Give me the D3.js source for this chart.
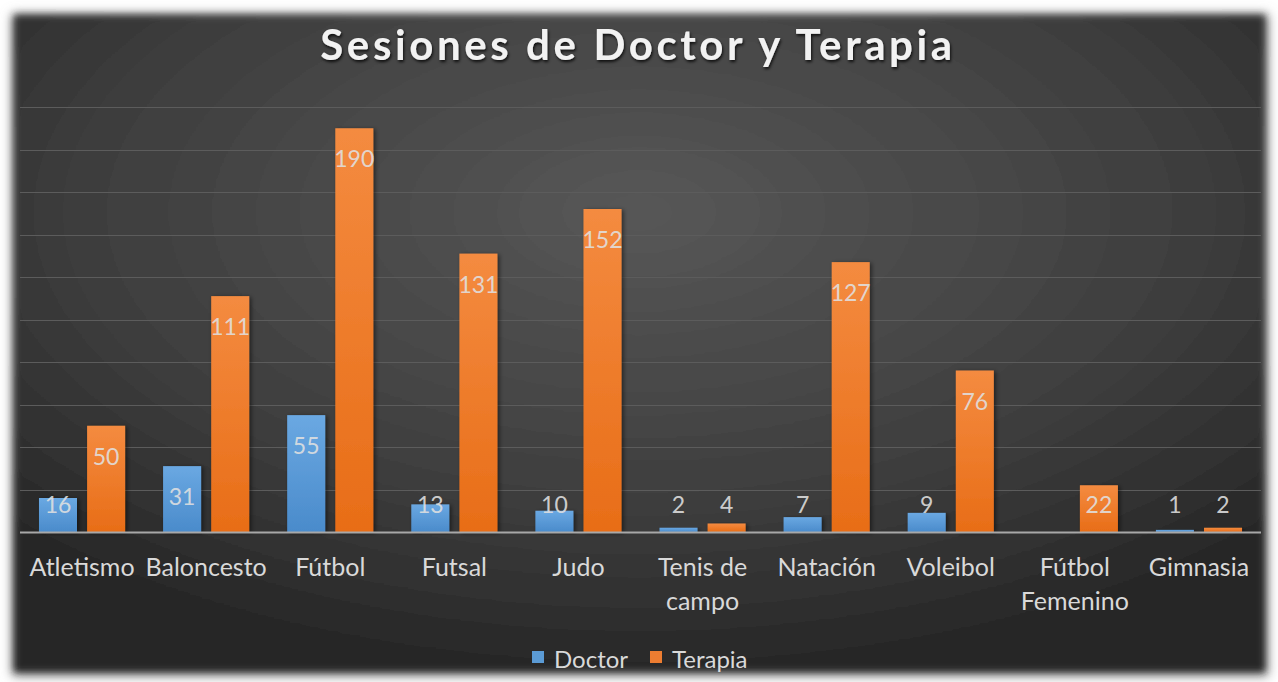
<!DOCTYPE html>
<html>
<head>
<meta charset="utf-8">
<script src="https://cdn.jsdelivr.net/npm/d3@7"></script>
<style>
  html, body { margin: 0; padding: 0; background: #fff; }
  svg { display: block; }
  text { font-family: Lato, "Open Sans", sans-serif; }
</style>
</head>
<body>
<div id="chart"></div>
<script>
var categories = ["Atletismo", "Baloncesto", "Fútbol", "Futsal", "Judo", "Tenis de campo", "Natación", "Voleibol", "Fútbol Femenino", "Gimnasia"];
var doctor  = [16, 31, 55, 13, 10, 2, 7, 9, null, 1];
var terapia = [50, 111, 190, 131, 152, 4, 127, 76, 22, 2];
var seriesNames = ["Doctor", "Terapia"];
var yTicks = [0, 20, 40, 60, 80, 100, 120, 140, 160, 180, 200];

var width = 1278, height = 682;

var svg = d3.select("#chart").append("svg")
    .attr("width", width)
    .attr("height", height);

var defs = svg.append("defs");

var bg = defs.append("radialGradient")
    .attr("id", "bg")
    .attr("cx", "50%").attr("cy", "30%").attr("r", "70%");
bg.append("stop").attr("offset", "0%").attr("stop-color", "#575757");
bg.append("stop").attr("offset", "60%").attr("stop-color", "#3f3f3f");
bg.append("stop").attr("offset", "100%").attr("stop-color", "#272727");

// soft edge of the frame + outer halo
var edge = defs.append("filter").attr("id", "edge")
    .attr("x", "-5%").attr("y", "-5%").attr("width", "110%").attr("height", "110%");
edge.append("feGaussianBlur").attr("stdDeviation", 3.5);

var halo = defs.append("filter").attr("id", "halo")
    .attr("x", "-5%").attr("y", "-5%").attr("width", "110%").attr("height", "110%");
halo.append("feGaussianBlur").attr("stdDeviation", 6);

var shadow = defs.append("filter").attr("id", "barShadow")
    .attr("x", "-30%").attr("y", "-10%").attr("width", "160%").attr("height", "120%");
shadow.append("feDropShadow")
    .attr("dx", 2).attr("dy", 1).attr("stdDeviation", 2)
    .attr("flood-color", "#000").attr("flood-opacity", 0.5);

var titleShadow = defs.append("filter").attr("id", "titleShadow")
    .attr("x", "-10%").attr("y", "-30%").attr("width", "120%").attr("height", "160%");
titleShadow.append("feDropShadow")
    .attr("dx", 1).attr("dy", 2).attr("stdDeviation", 1.5)
    .attr("flood-color", "#000").attr("flood-opacity", 0.8);

function barGrad(id, top, bottom) {
  var g = defs.append("linearGradient").attr("id", id)
      .attr("x1", 0).attr("y1", 0).attr("x2", 0).attr("y2", 1);
  g.append("stop").attr("offset", "0%").attr("stop-color", top);
  g.append("stop").attr("offset", "100%").attr("stop-color", bottom);
}
barGrad("gDoctor", "#6aa8e2", "#4a8bcb");
barGrad("gTerapia", "#f48b40", "#e86d17");
var fills = ["url(#gDoctor)", "url(#gTerapia)"];
var legendColors = ["#5b9bd5", "#ed7d31"];

// frame
svg.append("rect")
    .attr("x", 12).attr("y", 14)
    .attr("width", 1256).attr("height", 662)
    .attr("fill", "#8a8a8a")
    .attr("filter", "url(#halo)");
svg.append("rect")
    .attr("x", 14).attr("y", 15)
    .attr("width", 1251).attr("height", 657)
    .attr("fill", "url(#bg)")
    .attr("filter", "url(#edge)");

var x0 = d3.scaleBand()
    .domain(categories)
    .range([20, 1261])
    .paddingInner(0.306)
    .paddingOuter(0.153);

var x1 = d3.scaleBand()
    .domain(seriesNames)
    .range([0, x0.bandwidth()])
    .paddingInner(0.21);

var y = d3.scaleLinear()
    .domain([0, 200])
    .range([532, 107]);

// gridlines
svg.append("g")
  .selectAll("line")
  .data(yTicks.slice(1))
  .enter().append("line")
    .attr("x1", 20).attr("x2", 1261)
    .attr("y1", function(d){ return Math.round(y(d)) + 0.5; })
    .attr("y2", function(d){ return Math.round(y(d)) + 0.5; })
    .attr("stroke", "#5c5c5c")
    .attr("stroke-width", 1);

var rows = categories.map(function(c, i){
  return [
    {cat: c, s: 0, v: doctor[i]},
    {cat: c, s: 1, v: terapia[i]}
  ];
});

var groups = svg.append("g")
  .selectAll("g")
  .data(rows)
  .enter().append("g")
    .attr("transform", function(d, i){ return "translate(" + x0(categories[i]) + ",0)"; });

groups.selectAll("rect")
  .data(function(d){ return d.filter(function(e){ return e.v != null; }); })
  .enter().append("rect")
    .attr("x", function(d){ return x1(seriesNames[d.s]); })
    .attr("y", function(d){ return y(d.v); })
    .attr("width", x1.bandwidth())
    .attr("height", function(d){ return y(0) - y(d.v); })
    .attr("fill", function(d){ return fills[d.s]; })
    .attr("filter", "url(#barShadow)");

// baseline
svg.append("line")
    .attr("x1", 20).attr("x2", 1261)
    .attr("y1", y(0) + 0.5).attr("y2", y(0) + 0.5)
    .attr("stroke", "#a8a8a8")
    .attr("stroke-width", 2);

// data labels
groups.selectAll("text")
  .data(function(d){ return d.filter(function(e){ return e.v != null; }); })
  .enter().append("text")
    .attr("x", function(d){ return x1(seriesNames[d.s]) + x1.bandwidth() / 2; })
    .attr("y", function(d){ return Math.min(y(d.v) + 39, y(0) - 19); })
    .attr("text-anchor", "middle")
    .attr("font-size", 23)
    .attr("fill", "#e0e0e0")
    .attr("fill-opacity", 0.9)
    .text(function(d){ return d.v; });

// category labels with word wrap
var catG = svg.append("g");
categories.forEach(function(c){
  var cx = x0(c) + x0.bandwidth() / 2;
  var t = catG.append("text")
      .attr("x", cx)
      .attr("y", 576)
      .attr("text-anchor", "middle")
      .attr("font-size", 25)
      .attr("fill", "#d9d9d9");
  var words = c.split(" "), line = [];
  var tspan = t.append("tspan").attr("x", cx).attr("dy", 0);
  words.forEach(function(w){
    line.push(w);
    tspan.text(line.join(" "));
    if (tspan.node().getComputedTextLength() > x0.step() && line.length > 1) {
      line.pop();
      tspan.text(line.join(" "));
      line = [w];
      tspan = t.append("tspan")
          .attr("x", cx)
          .attr("dy", 34)
          .text(w);
    }
  });
});

// title
svg.append("text")
    .attr("x", 638)
    .attr("y", 60)
    .attr("text-anchor", "middle")
    .attr("font-size", 42)
    .attr("font-weight", "bold")
    .attr("letter-spacing", 3.6)
    .attr("fill", "#f2f2f2")
    .attr("filter", "url(#titleShadow)")
    .text("Sesiones de Doctor y Terapia");

// legend
var legend = svg.append("g").attr("transform", "translate(532,0)");
var lx = [0, 118];
seriesNames.forEach(function(name, i){
  var g = legend.append("g").attr("transform", "translate(" + lx[i] + ",0)");
  g.append("rect")
      .attr("x", 0).attr("y", 651)
      .attr("width", 12).attr("height", 12)
      .attr("fill", legendColors[i]);
  g.append("text")
      .attr("x", 22).attr("y", 668)
      .attr("font-size", 24)
      .attr("fill", "#d9d9d9")
      .text(name);
});
</script>
</body>
</html>
